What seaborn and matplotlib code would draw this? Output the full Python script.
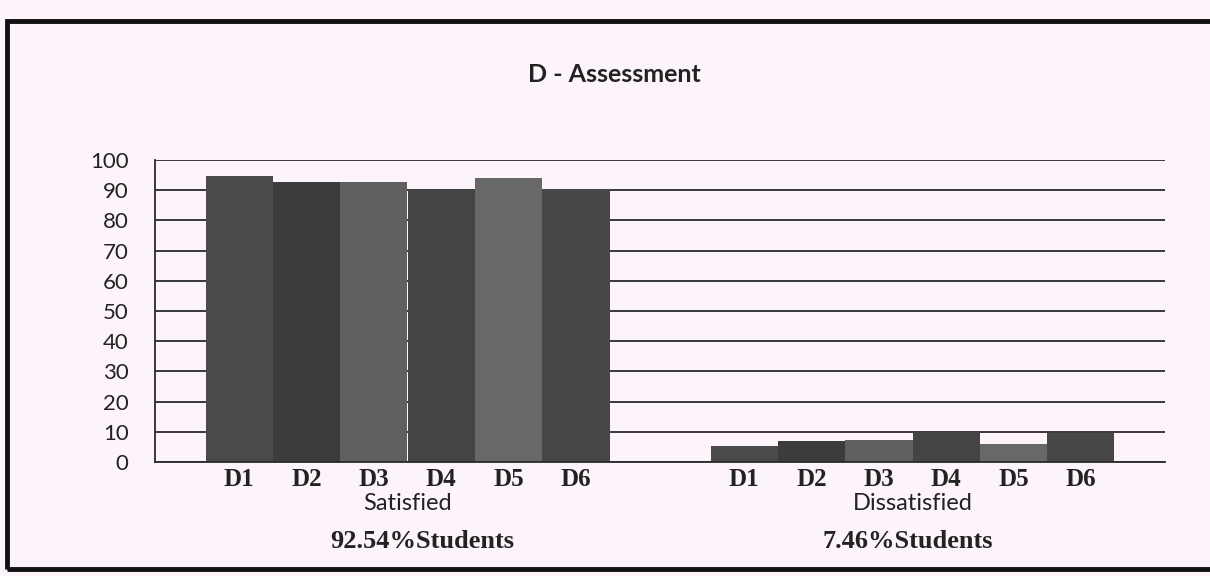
import numpy as np
import pandas as pd
import seaborn as sns
import matplotlib.pyplot as plt
import matplotlib.transforms as mtransforms
from matplotlib.patches import Rectangle

# data
groups = ['Satisfied', 'Dissatisfied']
items = ['D1', 'D2', 'D3', 'D4', 'D5', 'D6']
satisfied = [94.7, 92.9, 92.6, 90.2, 94.2, 90.4]
dissatisfied = [5.3, 7.1, 7.4, 9.8, 5.8, 9.6]
totals = ['92.54%Students', '7.46%Students']
yticks = [0, 10, 20, 30, 40, 50, 60, 70, 80, 90, 100]

df = pd.DataFrame({
    'group': np.repeat(groups, len(items)),
    'item': items * 2,
    'value': satisfied + dissatisfied,
})

bar_colors = ['#4a4a4a', '#3c3c3c', '#606060', '#444444', '#686868', '#474747']
paper = '#fcf4fa'

sns.set_style('white')
plt.rcParams['font.family'] = ['Lato', 'DejaVu Sans']

fig = plt.figure(figsize=(12.1, 5.76), dpi=100, facecolor=paper)
ax = fig.add_axes([155 / 1210, 0.198, 1010 / 1210, 0.524])
ax.set_facecolor(paper)

sns.barplot(data=df, x='group', y='value', hue='item', palette=bar_colors,
            width=0.8, gap=0, dodge=True, legend=False, ax=ax, zorder=2,
            linewidth=0, saturation=1)

ax.set_ylim(0, 100)
ax.set_xlim(-0.5, 1.5)
ax.set_yticks(yticks)
ax.set_yticklabels([str(v) for v in yticks], fontsize=16, color='#222222')
ax.yaxis.grid(True, color='#2a2a2a', linewidth=1.3, zorder=0)
ax.set_axisbelow(True)
ax.tick_params(axis='y', length=7, width=1.2, color='#2a2a2a', pad=12)

# category boundaries get the small tick marks, bars get D1..D6 labels
centers, labels = [], []
for cont, name in zip(ax.containers, items):
    for bar in cont:
        centers.append(bar.get_x() + bar.get_width() / 2)
        labels.append(name)
ax.set_xticks([-0.5, 0.5, 1.5])
ax.set_xticklabels(['', '', ''])
ax.tick_params(axis='x', which='major', length=7, width=1.2, color='#2a2a2a')
ax.set_xticks(centers, minor=True)
ax.set_xticklabels(labels, minor=True, fontsize=18, fontweight='bold',
                   family=['Liberation Serif'], color='#222222')
ax.tick_params(axis='x', which='minor', length=0, pad=4)
ax.set_xlabel('')
ax.set_ylabel('')

for s in ['top', 'right']:
    ax.spines[s].set_visible(False)
for s in ['left', 'bottom']:
    ax.spines[s].set_color('#2a2a2a')
    ax.spines[s].set_linewidth(1.3)

trans = mtransforms.blended_transform_factory(ax.transData, ax.transAxes)
for i, g in enumerate(groups):
    ax.text(i, -0.138, g, transform=trans, ha='center', va='center',
            fontsize=17, color='#222222')
    ax.text(i + (0.03 if i == 0 else -0.01), -0.265, totals[i], transform=trans,
            ha='center', va='center', fontsize=19, fontweight='bold',
            family=['Liberation Serif'], color='#222222')

fig.text(0.508, 0.870, 'D - Assessment', ha='center', va='center',
         fontsize=18, fontweight='bold', color='#222222')

# outer chart frame
fig.patches.append(Rectangle((0.006, 0.012), 1.05, 0.952, transform=fig.transFigure,
                             fill=False, edgecolor='#111111', linewidth=3.5))

fig.savefig('out.png', dpi=100, facecolor=paper)
